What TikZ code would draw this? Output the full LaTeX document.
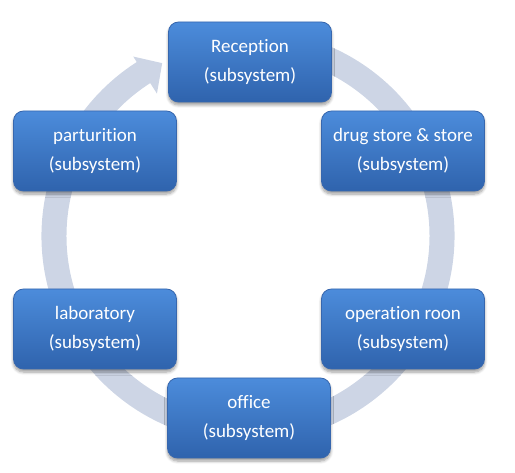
\documentclass[tikz,border=0pt]{standalone}
\usepackage{fontspec}
\setmainfont{Carlito}[Ligatures=NoCommon]
\usetikzlibrary{shadows.blur}
\definecolor{ringcol}{HTML}{CDD5E5}
\definecolor{boxtop}{HTML}{4C8CDB}
\definecolor{boxbot}{HTML}{2F63AD}
\definecolor{boxline}{HTML}{3767AE}
\tikzset{
  sub/.style={
    rounded corners=10pt, minimum width=163pt, minimum height=80pt,
    inner sep=0pt, top color=boxtop, bottom color=boxbot,
    draw=boxline, line width=0.8pt, text=white, align=center,
    font=\fontsize{19}{29}\selectfont,
    blur shadow={shadow xshift=0pt, shadow yshift=-3pt,
      shadow blur radius=3pt, shadow opacity=40, shadow blur steps=6}
  }
}
\begin{document}
\begin{tikzpicture}[x=1pt,y=1pt]
\useasboundingbox (0,-473) rectangle (515,0);
\coordinate (C) at (248,-236);
% circular arrow running clockwise behind the boxes
\fill[ringcol]
  ([shift={(C)}]75:206.5) arc[start angle=75,end angle=-237.4,radius=206.5pt]
  -- ([shift={(C)}]-237.4:213)
  -- ([shift={(C)}]-243.6:193)
  -- ([shift={(C)}]-237.4:169)
  -- ([shift={(C)}]-237.4:181.5)
  arc[start angle=-237.4,end angle=75,radius=181.5pt] -- cycle;
% subsystems
\node[sub] (rec)  at (250,-62)   {Reception\\(subsystem)};
\node[sub] (drug) at (403,-151)  {drug store \& store\\(subsystem)};
\node[sub] (op)   at (403,-329)  {operation roon\\(subsystem)};
\node[sub] (off)  at (249,-418)  {office\\(subsystem)};
\node[sub] (lab)  at (95,-329)   {laboratory\\(subsystem)};
\node[sub] (par)  at (95,-151)   {parturition\\(subsystem)};
\end{tikzpicture}
\end{document}
